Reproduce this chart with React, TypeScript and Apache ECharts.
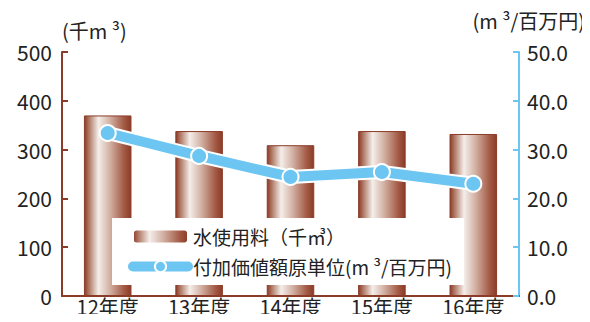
import React, { useEffect, useRef } from "react";
import * as echarts from "echarts";

const categories = ["12年度", "13年度", "14年度", "15年度", "16年度"];
const waterUse = [370, 338, 309, 338, 332];
const intensity = [33.4, 28.7, 24.4, 25.4, 23.0];
const leftTicks = [0, 100, 200, 300, 400, 500];
const rightTicks = [0, 10, 20, 30, 40, 50];
const barName = "水使用料（千㎥）";
const lineName = "付加価値額原単位(m ³/百万円)";

const BROWN = "#8c3b28";
const BLUE = "#6cc6f1";
const FONT = "'Noto Sans CJK JP', 'Noto Sans', sans-serif";

export default function App() {
  const ref = useRef<HTMLDivElement>(null);
  useEffect(() => {
    if (!ref.current) return;
    const chart = echarts.init(ref.current, null, { renderer: "svg" });
    const barGrad = new echarts.graphic.LinearGradient(0, 0, 1, 0, [
      { offset: 0, color: "#8c3b28" },
      { offset: 0.1, color: "#b07a66" },
      { offset: 0.3, color: "#f4eeea" },
      { offset: 0.55, color: "#d2b0a2" },
      { offset: 0.85, color: "#a35a45" },
      { offset: 1, color: "#8c3b28" },
    ]);
    chart.setOption({
      animation: false,
      textStyle: { fontFamily: FONT },
      grid: { left: 62, right: 71, top: 52, bottom: 26 },
      legend: {
        orient: "vertical",
        left: 112,
        top: 218,
        data: [barName, lineName],
        backgroundColor: "#ffffff",
        padding: [9, 12, 9, 16],
        itemGap: 11,
        itemWidth: 55,
        itemHeight: 14,
        lineStyle: { width: 10, cap: "round" },
        itemStyle: { borderWidth: 2, borderColor: "#ffffff" },
        textStyle: { fontSize: 19, color: "#222", fontFamily: FONT },
      },
      xAxis: {
        type: "category",
        data: categories,
        axisLine: { lineStyle: { color: BROWN, width: 2 } },
        axisTick: { inside: true, length: 6, lineStyle: { color: BROWN, width: 2 } },
        axisLabel: {
          fontSize: 20,
          lineHeight: 20,
          color: "#222",
          margin: 0,
          verticalAlign: "top",
          fontFamily: FONT,
        },
      },
      yAxis: [
        {
          type: "value",
          min: leftTicks[0],
          max: leftTicks[leftTicks.length - 1],
          interval: 100,
          name: "(千m ³)",
          nameGap: 12,
          nameTextStyle: { fontSize: 20, color: "#222", align: "left" },
          axisLine: { show: true, lineStyle: { color: BROWN, width: 2 } },
          axisTick: { show: true, inside: true, length: 6, lineStyle: { color: BROWN, width: 2 } },
          axisLabel: { fontSize: 21, color: "#222", margin: 10, fontFamily: FONT },
          splitLine: { show: false },
        },
        {
          type: "value",
          min: rightTicks[0],
          max: rightTicks[rightTicks.length - 1],
          interval: 10,
          name: "(m ³/百万円)",
          nameGap: 22,
          nameTextStyle: { fontSize: 20, color: "#222", align: "right", padding: [0, -66, 0, 0] },
          axisLine: { show: true, lineStyle: { color: BLUE, width: 2 } },
          axisTick: { show: true, inside: true, length: 6, lineStyle: { color: BLUE, width: 2 } },
          axisLabel: {
            fontSize: 21,
            color: "#222",
            margin: 8,
            fontFamily: FONT,
            formatter: (v: number) => v.toFixed(1),
          },
          splitLine: { show: false },
        },
      ],
      series: [
        {
          name: barName,
          type: "bar",
          data: waterUse,
          barWidth: "52%",
          itemStyle: { color: barGrad, borderColor: BROWN, borderWidth: 1 },
          z: 2,
        },
        {
          name: "outline",
          type: "line",
          yAxisIndex: 1,
          data: intensity,
          symbol: "none",
          lineStyle: { color: "#ffffff", width: 14, cap: "round", join: "round" },
          z: 3,
          silent: true,
        },
        {
          name: lineName,
          type: "line",
          yAxisIndex: 1,
          data: intensity,
          symbol: "circle",
          symbolSize: 16,
          itemStyle: { color: BLUE, borderColor: "#ffffff", borderWidth: 2 },
          lineStyle: { color: BLUE, width: 10, cap: "round", join: "round" },
          z: 4,
        },
      ],
    });
    return () => chart.dispose();
  }, []);
  return <div ref={ref} style={{ width: 590, height: 322, margin: -8 }} />;
}
